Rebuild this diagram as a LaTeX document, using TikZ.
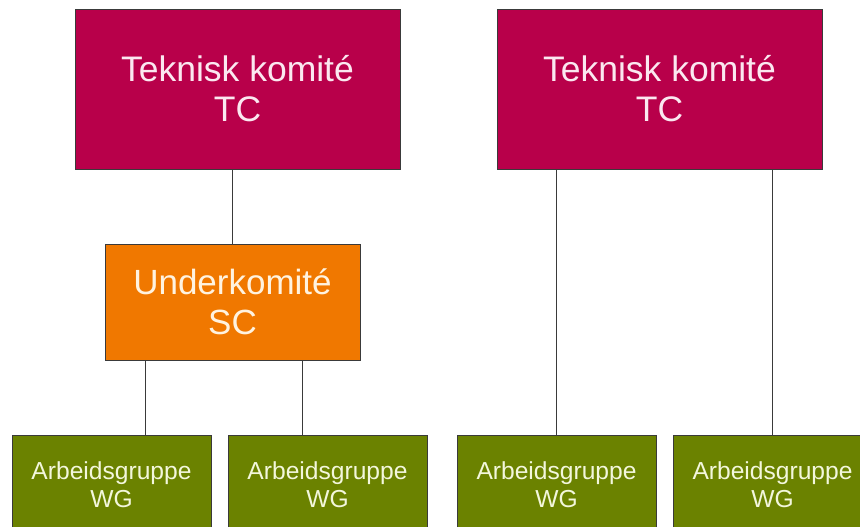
\documentclass[tikz,border=0pt]{standalone}
\usepackage{fontspec}
\setmainfont{Liberation Sans}
\definecolor{tcred}{HTML}{B8004A}
\definecolor{scorange}{HTML}{F07800}
\definecolor{wggreen}{HTML}{6B8200}
\definecolor{txtpink}{HTML}{FBE8F0}
\definecolor{txtcream}{HTML}{FFF3E0}
\definecolor{txtgreen}{HTML}{F3F7DC}
\definecolor{edgegray}{HTML}{3A3A3A}
\begin{document}
\begin{tikzpicture}[x=1pt,y=-1pt,
  box/.style={draw=edgegray,line width=0.8pt,rectangle,align=center,inner sep=0pt},
  tcbox/.style={box,fill=tcred,text=txtpink,minimum width=325pt,minimum height=160pt,font=\fontsize{35.5}{40}\selectfont},
  scbox/.style={box,fill=scorange,text=txtcream,minimum width=255pt,minimum height=116pt,font=\fontsize{35}{40}\selectfont},
  wgbox/.style={box,fill=wggreen,text=txtgreen,minimum width=199pt,minimum height=100pt,font=\fontsize{24.6}{28}\selectfont},
  link/.style={draw=edgegray,line width=0.8pt}]
\useasboundingbox (0,0) rectangle (860,527);
\clip (0,0) rectangle (860,527);
\fill[white] (0,0) rectangle (860,527);
\node[tcbox] (tc1) at (237.5,89) {Teknisk komité\\TC};
\node[tcbox] (tc2) at (659.5,89) {Teknisk komité\\TC};
\node[scbox] (sc) at (232.5,302) {Underkomité\\SC};
\node[wgbox] (wg1) at (111.5,485) {Arbeidsgruppe\\WG};
\node[wgbox] (wg2) at (327.5,485) {Arbeidsgruppe\\WG};
\node[wgbox] (wg3) at (556.5,485) {Arbeidsgruppe\\WG};
\node[wgbox] (wg4) at (772.5,485) {Arbeidsgruppe\\WG};
\draw[link] (tc1.south -| sc.north) -- (sc.north);
\draw[link] (sc.south -| 145,0) -- (wg1.north -| 145,0);
\draw[link] (sc.south -| 302,0) -- (wg2.north -| 302,0);
\draw[link] (tc2.south -| 556,0) -- (wg3.north -| 556,0);
\draw[link] (tc2.south -| 772,0) -- (wg4.north -| 772,0);
\end{tikzpicture}
\end{document}
